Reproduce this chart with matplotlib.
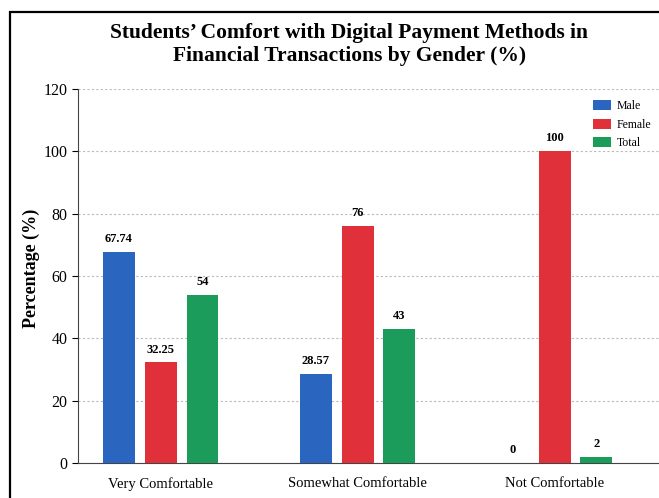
import numpy as np
import matplotlib
matplotlib.use("Agg")
import matplotlib.pyplot as plt
from matplotlib.patches import Rectangle

categories = ["Very Comfortable", "Somewhat Comfortable", "Not Comfortable"]
male = [67.74, 28.57, 0]
female = [32.25, 76, 100]
total = [54, 43, 2]
male_labels = ["67.74", "28.57", "0"]
female_labels = ["32.25", "76", "100"]
total_labels = ["54", "43", "2"]

plt.rcParams["font.family"] = ["Liberation Serif", "DejaVu Serif"]

fig = plt.figure(figsize=(6.59, 4.98), dpi=100)
ax = fig.add_axes([78 / 659, 35 / 498, 1 - 78 / 659, 374 / 498])

# frame around the whole figure (cropped at right/bottom like the source)
fig.patches.append(Rectangle((10 / 659, -0.1), 1.2, 0.1 + 486 / 498,
                             transform=fig.transFigure, fill=False,
                             edgecolor="black", lw=1.6))

x = np.arange(len(categories))
off, w = 0.212, 0.162
series = [(male, male_labels, "#2a66c0", "Male", -off),
          (female, female_labels, "#e0313a", "Female", 0.0),
          (total, total_labels, "#1b9c5b", "Total", off)]
for vals, labs, col, name, dx in series:
    bars = ax.bar(x + dx, vals, w, color=col, label=name, zorder=3)
    for b, lab in zip(bars, labs):
        ax.annotate(lab, (b.get_x() + b.get_width() / 2, b.get_height()),
                    xytext=(0, 5), textcoords="offset points", ha="center",
                    va="bottom", fontsize=9, fontweight="bold")

ax.set_xlim(-0.42, 2.53)
ax.set_ylim(0, 120)
ax.set_yticks(np.arange(0, 121, 20))
ax.set_xticks(x)
ax.set_xticklabels(categories, fontsize=10.5)
ax.tick_params(axis="x", length=0, pad=10)
ax.tick_params(axis="y", labelsize=11.5, length=4)
ax.grid(axis="y", linestyle=(0, (2, 2)), color="#bbbbbb", lw=0.8, zorder=0)
ax.spines["top"].set_visible(False)
ax.spines["right"].set_visible(False)
ax.spines["left"].set_color("#444444")
ax.spines["bottom"].set_color("#444444")
ax.set_ylabel("Percentage (%)", fontsize=13, fontweight="bold")
ax.yaxis.set_label_coords(-0.066, 0.52)

ax.legend(loc="upper right", bbox_to_anchor=(1.005, 0.998), frameon=False,
          fontsize=8.5, handlelength=1.5, handleheight=0.9, labelspacing=0.55,
          handletextpad=0.5)

fig.text(0.53, 0.91, "Students\u2019 Comfort with Digital Payment Methods in\n"
         "Financial Transactions by Gender (%)", ha="center", va="center",
         fontsize=15.5, fontweight="bold", linespacing=1.2)

fig.savefig("out.png", dpi=100)
